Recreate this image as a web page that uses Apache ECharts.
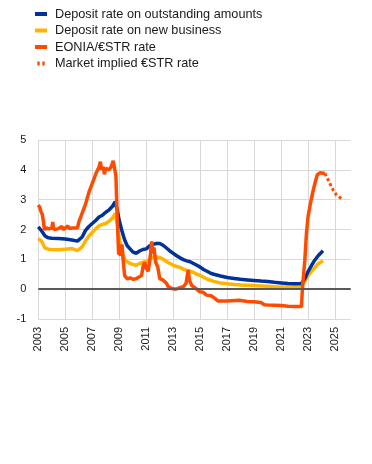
<!DOCTYPE html>
<html>
<head>
<meta charset="utf-8">
<script src="https://cdn.jsdelivr.net/npm/echarts@6/dist/echarts.min.js"></script>
<style>
html,body{margin:0;padding:0;background:#fff;}
#chart{width:372px;height:464px;}
</style>
</head>
<body>
<div id="chart"></div>
<script>
// Fractional-year dates for the two deposit-rate series
const depositYears = [2003.0,2003.25,2003.5,2003.75,2004.0,2004.5,2005.0,2005.5,2005.9,2006.25,2006.5,2006.75,2007.0,2007.25,2007.5,2007.75,2008.0,2008.25,2008.5,2008.7,2008.85,2009.0,2009.2,2009.4,2009.6,2009.8,2010.0,2010.25,2010.5,2010.75,2011.0,2011.25,2011.5,2011.75,2012.0,2012.25,2012.5,2012.75,2013.0,2013.25,2013.5,2013.75,2014.0,2014.25,2014.5,2014.75,2015.0,2015.25,2015.5,2015.75,2016.0,2016.5,2017.0,2017.5,2018.0,2018.5,2019.0,2019.5,2020.0,2020.5,2021.0,2021.5,2022.0,2022.5,2022.75,2023.0,2023.25,2023.5,2023.75,2024.1];
const depositOutstanding = [2.09,1.95,1.78,1.72,1.71,1.70,1.68,1.65,1.61,1.75,1.97,2.10,2.20,2.30,2.42,2.48,2.58,2.66,2.78,2.93,2.65,2.30,1.95,1.65,1.45,1.35,1.25,1.20,1.28,1.33,1.35,1.45,1.50,1.53,1.53,1.47,1.38,1.28,1.20,1.12,1.05,0.99,0.95,0.92,0.86,0.80,0.74,0.66,0.60,0.54,0.50,0.44,0.39,0.36,0.33,0.31,0.29,0.27,0.26,0.23,0.21,0.19,0.18,0.19,0.35,0.60,0.80,0.98,1.13,1.29];
const depositNewBusiness = [1.70,1.60,1.38,1.34,1.33,1.32,1.34,1.36,1.29,1.42,1.62,1.78,1.90,2.02,2.12,2.17,2.20,2.28,2.38,2.54,2.20,1.70,1.25,1.00,0.92,0.86,0.83,0.80,0.86,0.90,0.93,1.00,1.06,1.08,1.06,1.00,0.93,0.86,0.80,0.76,0.73,0.67,0.63,0.60,0.56,0.50,0.46,0.40,0.34,0.30,0.26,0.21,0.18,0.16,0.14,0.13,0.12,0.11,0.10,0.08,0.07,0.07,0.07,0.10,0.25,0.45,0.60,0.73,0.85,0.95];

// EONIA / €STR
const eoniaYears = [2003.0,2003.1,2003.2,2003.3,2003.4,2003.45,2003.6,2003.8,2004.0,2004.07,2004.15,2004.5,2004.75,2004.85,2005.0,2005.2,2005.3,2005.5,2005.9,2006.0,2006.25,2006.5,2006.75,2007.0,2007.25,2007.5,2007.6,2007.7,2007.8,2007.9,2008.0,2008.25,2008.4,2008.55,2008.65,2008.75,2008.82,2008.9,2008.95,2009.1,2009.2,2009.3,2009.4,2009.6,2009.8,2010.0,2010.25,2010.5,2010.65,2010.78,2010.9,2011.0,2011.15,2011.3,2011.4,2011.5,2011.57,2011.7,2011.85,2012.0,2012.2,2012.5,2012.6,2012.9,2013.2,2013.5,2013.75,2013.95,2014.11,2014.2,2014.36,2014.6,2014.98,2015.2,2015.47,2015.8,2016.09,2016.33,2016.5,2017.0,2017.9,2018.0,2018.5,2019.0,2019.5,2019.75,2020.0,2020.5,2021.0,2021.5,2022.0,2022.5,2022.58,2022.75,2022.87,2022.99,2023.17,2023.32,2023.5,2023.67,2023.87,2024.24];
const eoniaValues = [2.82,2.75,2.60,2.50,2.20,2.00,2.05,2.02,2.05,2.25,2.00,2.03,2.10,2.00,2.05,2.12,2.03,2.05,2.05,2.25,2.55,2.85,3.25,3.55,3.85,4.10,4.27,4.00,4.10,3.85,4.05,4.00,4.10,4.30,4.25,3.80,2.80,1.80,1.20,1.15,1.50,0.90,0.45,0.35,0.38,0.33,0.35,0.42,0.45,0.80,0.90,0.70,0.60,1.10,1.60,1.20,1.40,0.90,0.75,0.35,0.32,0.20,0.10,0.02,0.00,0.05,0.08,0.20,0.64,0.30,0.13,0.05,-0.09,-0.10,-0.20,-0.22,-0.31,-0.40,-0.40,-0.40,-0.37,-0.41,-0.41,-0.42,-0.45,-0.52,-0.53,-0.54,-0.55,-0.57,-0.58,-0.58,0.08,0.97,1.87,2.43,2.88,3.21,3.55,3.83,3.90,3.88];

// Market implied €STR
const impliedYears = [2024.24,2024.36,2024.6,2024.85,2025.1,2025.55];
const impliedValues = [3.88,3.77,3.55,3.32,3.15,3.01];

const zip = (xs, ys) => xs.map((x, i) => [x, ys[i]]);

const names = ['Deposit rate on outstanding amounts','Deposit rate on new business','EONIA/€STR rate','Market implied €STR rate'];
const colors = {blue:'#003299', yellow:'#ffb400', orange:'#ff4b00'};
const font = '"Liberation Sans", Arial, sans-serif';

const chart = echarts.init(document.getElementById('chart'), null, {renderer:'canvas'});
chart.setOption({
  animation: false,
  backgroundColor: '#ffffff',
  textStyle: {fontFamily: font},
  legend: {
    orient: 'vertical',
    left: 35,
    top: 7.5,
    padding: 0,
    itemWidth: 12,
    itemHeight: 4,
    itemGap: 3.5,
    textStyle: {fontSize: 12.7, color: '#1a1a1a', fontFamily: font, padding: [0,0,0,3]},
    data: [
      {name: names[0], icon: 'rect'},
      {name: names[1], icon: 'rect'},
      {name: names[2], icon: 'rect'},
      {name: names[3], icon: 'path://M0,0h24v40h-24zM50,0h24v40h-24z'}
    ]
  },
  grid: {left: 38.3, right: 21.3, top: 140, bottom: 145, containLabel: false},
  xAxis: {
    type: 'value',
    min: 2003,
    max: 2026.15,
    interval: 2,
    axisLine: {show: false},
    axisTick: {show: false},
    axisLabel: {
      rotate: 90, margin: 8, fontSize: 11, color: '#1a1a1a', fontFamily: font,
      formatter: v => Number.isInteger(v) ? String(v) : ''
    },
    splitLine: {show: true, showMaxLine: false, lineStyle: {color: '#d9d9d9', width: 1}}
  },
  yAxis: {
    type: 'value',
    min: -1,
    max: 5,
    interval: 1,
    axisLine: {show: false},
    axisTick: {show: false},
    axisLabel: {margin: 12, fontSize: 11, color: '#1a1a1a', fontFamily: font},
    splitLine: {show: true, lineStyle: {color: '#d9d9d9', width: 1}}
  },
  series: [
    {
      name: names[1], type: 'line', showSymbol: false, symbol: 'none',
      data: zip(depositYears, depositNewBusiness),
      itemStyle: {color: colors.yellow},
      lineStyle: {color: colors.yellow, width: 3.5},
      markLine: {
        silent: true, symbol: 'none', label: {show: false},
        lineStyle: {color: '#595959', width: 2, type: 'solid'},
        data: [{yAxis: 0}]
      }
    },
    {
      name: names[0], type: 'line', showSymbol: false, symbol: 'none',
      data: zip(depositYears, depositOutstanding),
      itemStyle: {color: colors.blue},
      lineStyle: {color: colors.blue, width: 3.5}
    },
    {
      name: names[2], type: 'line', showSymbol: false, symbol: 'none',
      data: zip(eoniaYears, eoniaValues),
      itemStyle: {color: colors.orange},
      lineStyle: {color: colors.orange, width: 3.5}
    },
    {
      name: names[3], type: 'line', showSymbol: false, symbol: 'none',
      data: zip(impliedYears, impliedValues),
      itemStyle: {color: colors.orange},
      lineStyle: {color: colors.orange, width: 3, type: [3, 2.5]}
    }
  ]
});
</script>
</body>
</html>
